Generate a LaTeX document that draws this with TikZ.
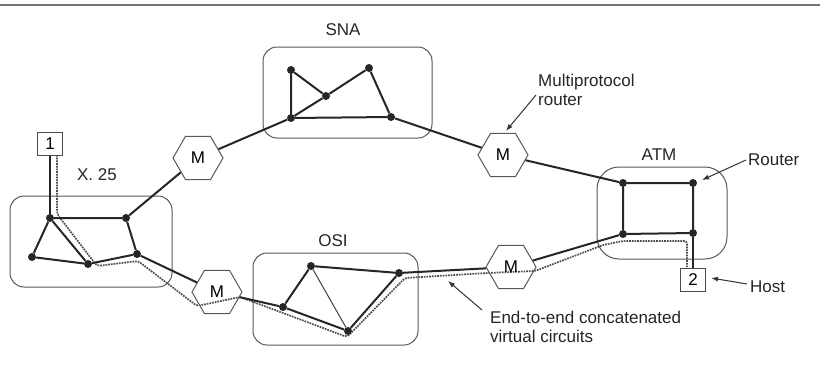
\documentclass[tikz,border=0pt]{standalone}
\usepackage{fontspec}
\setmainfont{Liberation Sans}
\usetikzlibrary{shapes.geometric,arrows.meta}
\begin{document}
\begin{tikzpicture}[x=1pt,y=-1pt,
  dot/.style={circle,fill=black!85,inner sep=0,minimum size=8pt},
  link/.style={line width=2pt,draw=black!85},
  thinlink/.style={line width=1pt,draw=black!75},
  netbox/.style={draw=black!65,line width=1pt,rounded corners=14pt},
  hexa/.style={regular polygon,regular polygon sides=6,draw=black!65,line width=1pt,minimum size=50pt,inner sep=0,font=\fontsize{17}{19}\selectfont},
  hostbox/.style={draw=black!70,line width=1pt,minimum width=25pt,minimum height=23pt,inner sep=0,font=\fontsize{17}{19}\selectfont},
  vc/.style={densely dotted,line width=1.7pt,draw=black!70,rounded corners=3pt},
  lbl/.style={font=\fontsize{17}{19}\selectfont,text=black!85,inner sep=0},
  pointer/.style={-{Latex[length=7pt,width=5pt]},line width=1pt,draw=black!80}]
\useasboundingbox (0,0) rectangle (820,370);
\fill[white] (0,0) rectangle (820,370);
\draw[black!55,line width=2.5pt] (0,5) -- (820,5);

% network boxes
\draw[netbox] (10,196) rectangle (172,287);
\draw[netbox] (263,47) rectangle (432,138);
\draw[netbox] (253,253) rectangle (418,345);
\draw[netbox,rounded corners=22pt] (597,167) rectangle (727,259);

% labels
\node[lbl] (lx25) at (97,175) {X. 25};
\node[lbl] (lsna) at (343,30) {SNA};
\node[lbl] (losi) at (333,241) {OSI};
\node[lbl] (latm) at (659,155) {ATM};
\node[lbl,anchor=west,align=left] (lmp) at (538,90) {Multiprotocol\\router};
\node[lbl,anchor=west] (lrouter) at (748,160) {Router};
\node[lbl,anchor=west] (lhost) at (750,287) {Host};
\node[lbl,anchor=west,align=left] (lvc) at (490,327) {End-to-end concatenated\\virtual circuits};

% virtual circuit (dotted)
\draw[vc] (57,155) -- (57,214) -- (97,266) -- (138,261) -- (197,306) -- (240,297)
  -- (283,313) -- (347,337) -- (405,278) -- (487,273) -- (535,271)
  -- (603,245) -- (623,241) -- (687,241) -- (687,268);

% routers
\node[hexa] (M1) at (198,158) {M};
\node[hexa] (M2) at (217,292) {M};
\node[hexa] (M3) at (503,155) {M};
\node[hexa] (M4) at (511,267) {M};

% hosts
\node[hostbox] (H1) at (50,144) {1};
\node[hostbox] (H2) at (693,280) {2};

% X.25 nodes
\node[dot] (A) at (50,218) {};
\node[dot] (B) at (126,218) {};
\node[dot] (C) at (32,257) {};
\node[dot] (D) at (88,264) {};
\node[dot] (E) at (137,254) {};
% SNA nodes
\node[dot] (S1) at (291,70) {};
\node[dot] (S2) at (369,68) {};
\node[dot] (S3) at (326,96) {};
\node[dot] (S4) at (291,118) {};
\node[dot] (S5) at (391,117) {};
% OSI nodes
\node[dot] (O1) at (311,266) {};
\node[dot] (O2) at (399,273) {};
\node[dot] (O3) at (283,307) {};
\node[dot] (O4) at (348,331) {};
% ATM nodes
\node[dot] (T1) at (623,183) {};
\node[dot] (T2) at (693,183) {};
\node[dot] (T3) at (623,234) {};
\node[dot] (T4) at (693,233) {};

% links
\draw[link] (H1) -- (A);
\draw[link] (A) -- (B) (A) -- (C) (A) -- (D) (C) -- (D) (D) -- (E) (B) -- (E);
\draw[link] (B) -- (M1);
\draw[link] (E) -- (M2);
\draw[link] (M1) -- (S4);
\draw[link] (S4) -- (S3) -- (S2) -- (S5) -- (S4) -- (S1) -- (S3);
\draw[link] (S5) -- (M3);
\draw[link] (M3) -- (T1);
\draw[link] (T1) -- (T2) -- (T4) -- (T3) -- (T1);
\draw[link] (T4) -- (H2);
\draw[link] (T3) -- (M4);
\draw[link] (M4) -- (O2);
\draw[link] (O2) -- (O1) -- (O3) -- (O4) -- (O2);
\draw[thinlink] (O1) -- (O4);
\draw[link] (M2) -- (O3);

% pointers
\coordinate (mpA) at (536,95);
\coordinate (mpB) at (506,131);
\draw[pointer] (mpA) -- (mpB);
\coordinate (rtA) at (746,160);
\coordinate (rtB) at (702,180);
\draw[pointer] (rtA) -- (rtB);
\coordinate (hsA) at (747,284);
\coordinate (hsB) at (711,278);
\draw[pointer] (hsA) -- (hsB);
\coordinate (vcA) at (482,310);
\coordinate (vcB) at (448,281);
\draw[pointer] (vcA) -- (vcB);
\end{tikzpicture}
\end{document}
